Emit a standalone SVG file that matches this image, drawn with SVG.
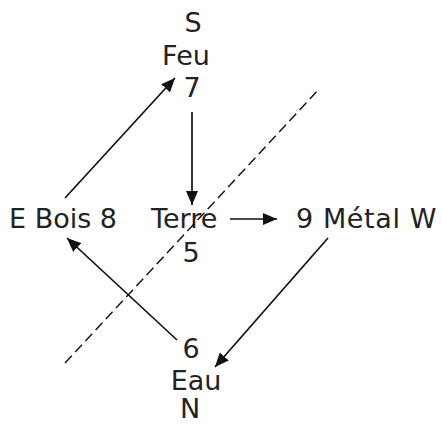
<svg xmlns="http://www.w3.org/2000/svg" width="442" height="425" viewBox="0 0 442 425">
<defs>
<style>
text{font-family:"DejaVu Sans",Verdana,sans-serif;font-size:27px;fill:#222}
.c{text-anchor:middle}
.ln{stroke:#111;stroke-width:1.7;fill:none}
.dash{stroke:#111;stroke-width:1.4;fill:none;stroke-dasharray:10 5}
</style>
<marker id="ah" viewBox="0 0 14 12" refX="14" refY="6" markerWidth="14" markerHeight="12" markerUnits="userSpaceOnUse" orient="auto"><path d="M0,0 L14,6 L0,12 z" fill="#111"/></marker>
</defs>
<rect width="442" height="425" fill="#fff"/>
<g id="fire">
<text class="c" x="193" y="32">S</text>
<text class="c" x="186" y="65">Feu</text>
<text class="c" x="192" y="97">7</text>
</g>
<g id="wood"><text x="9" y="228">E Bois 8</text></g>
<g id="earth">
<text x="151" y="228">Terre</text>
<text class="c" x="191" y="262">5</text>
</g>
<g id="metal"><text x="296" y="228" letter-spacing="0.6">9 Métal W</text></g>
<g id="water">
<text class="c" x="191" y="358">6</text>
<text class="c" x="196" y="390">Eau</text>
<text class="c" x="190" y="418">N</text>
</g>
<g id="connectors">
<line class="dash" x1="65" y1="363" x2="320" y2="88"/>
<line class="ln" x1="192" y1="112" x2="192" y2="205" marker-end="url(#ah)"/>
<line class="ln" x1="65" y1="198" x2="175" y2="78" marker-end="url(#ah)"/>
<line class="ln" x1="230" y1="219" x2="277" y2="219" marker-end="url(#ah)"/>
<line class="ln" x1="328" y1="238" x2="215" y2="367" marker-end="url(#ah)"/>
<line class="ln" x1="177" y1="340" x2="67" y2="238" marker-end="url(#ah)"/>
</g>
</svg>
